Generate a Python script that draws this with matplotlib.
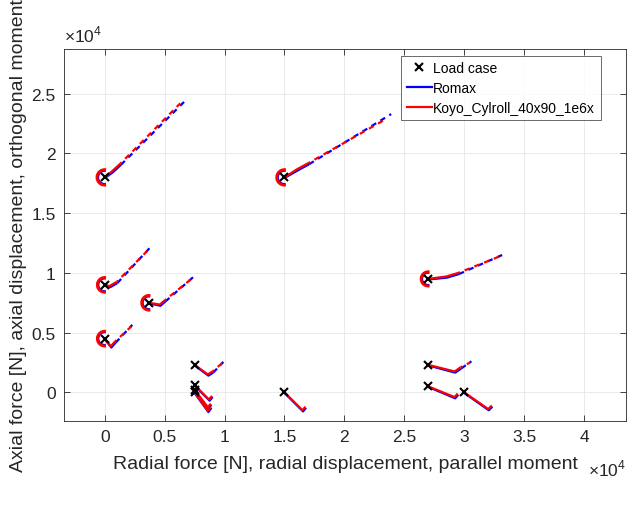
import numpy as np
import matplotlib
matplotlib.use("Agg")
import matplotlib.pyplot as plt
from matplotlib.patches import Arc
from matplotlib.lines import Line2D

plt.rcParams["font.family"] = ["Liberation Sans", "DejaVu Sans"]
plt.rcParams["mathtext.fontset"] = "custom"
plt.rcParams["mathtext.rm"] = "Liberation Sans"

# ---- load cases (radial, axial) ----
load_x = [0, 15000, 0, 3700, 0, 7500, 7500, 7500, 7500, 15000, 27000, 27000, 27000, 30000]
load_y = [18000, 18000, 9000, 7500, 4500, 2300, 600, 200, 0, 0, 9500, 2300, 500, 0]

# ---- moment sweeps (arcs around selected load cases) ----
arc_x = [0, 15000, 0, 3700, 0, 27000]
arc_y = [18000, 18000, 9000, 7500, 4500, 9500]
arc_r_koyo = [650, 650, 620, 620, 620, 600]
arc_r_romax = [560, 560, 540, 540, 540, 520]

# ---- solid part of each response curve (force branch) ----
koyo_solid = [
    [(0, 18000), (600, 18500), (1300, 19150)],
    [(15000, 18000), (16000, 18650), (17000, 19200)],
    [(0, 9000), (400, 8900), (1000, 9250)],
    [(3700, 7500), (4600, 7350), (5000, 7700)],
    [(0, 4500), (500, 3850), (850, 4250)],
    [(7500, 2300), (8600, 1500), (9000, 1750)],
    [(7500, 600), (8700, -600), (8950, -300)],
    [(7500, 200), (8600, -1250), (8850, -950)],
    [(7500, 0), (8600, -1550), (8850, -1200)],
    [(15000, 0), (16500, -1500), (16750, -1200)],
    [(27000, 9500), (28500, 9700), (29500, 10000)],
    [(27000, 2300), (29200, 1750), (29700, 2100)],
    [(27000, 500), (29200, -400), (29450, -100)],
    [(30000, 0), (32000, -1400), (32300, -1100)],
]
romax_solid = [
    [(0, 17950), (650, 18400), (1350, 19050)],
    [(15000, 17950), (16050, 18550), (17050, 19100)],
    [(0, 8950), (450, 8800), (1050, 9150)],
    [(3700, 7450), (4650, 7250), (5050, 7600)],
    [(0, 4450), (550, 3750), (900, 4150)],
    [(7500, 2250), (8650, 1400), (9050, 1650)],
    [(7500, 550), (8750, -700), (9000, -400)],
    [(7500, 150), (8650, -1350), (8900, -1050)],
    [(7500, -50), (8650, -1650), (8900, -1300)],
    [(15000, -50), (16550, -1600), (16800, -1300)],
    [(27000, 9450), (28550, 9600), (29550, 9900)],
    [(27000, 2250), (29250, 1650), (29750, 2000)],
    [(27000, 450), (29250, -500), (29500, -200)],
    [(30000, -50), (32050, -1500), (32350, -1200)],
]

# ---- dashed part of each response curve (displacement branch) ----
koyo_dash = [
    [(1300, 19150), (6300, 24200)],
    [(17000, 19200), (23500, 22900)],
    [(1000, 9250), (3800, 12100)],
    [(5000, 7700), (7300, 9550)],
    [(850, 4250), (2200, 5500)],
    [(9000, 1750), (9800, 2450)],
    [(29700, 2100), (30500, 2500)],
    [(29500, 10000), (33000, 11400)],
]
romax_dash = [
    [(1350, 19050), (6900, 24600)],
    [(17050, 19100), (23900, 23300)],
    [(1050, 9150), (3900, 12250)],
    [(5050, 7600), (7500, 9750)],
    [(900, 4150), (2300, 5650)],
    [(9050, 1650), (9900, 2550)],
    [(29750, 2000), (30600, 2600)],
    [(29550, 9900), (33500, 11650)],
]

x_ticks = [0, 5000, 10000, 15000, 20000, 25000, 30000, 35000, 40000]
x_tick_labels = ["0", "0.5", "1", "1.5", "2", "2.5", "3", "3.5", "4"]
y_ticks = [0, 5000, 10000, 15000, 20000, 25000]
y_tick_labels = ["0", "0.5", "1", "1.5", "2", "2.5"]

BLUE = "#0000ff"
RED = "#ff0000"
AX_COLOR = "#262626"

fig = plt.figure(figsize=(6.36, 5.06), dpi=100)
ax = fig.add_axes([64 / 636, 84 / 506, 562 / 636, 372 / 506])
ax.set_xlim(-3400, 43500)
ax.set_ylim(-2400, 28750)


def draw_paths(paths, color, **kw):
    for p in paths:
        xs, ys = zip(*p)
        ax.plot(xs, ys, color=color, solid_capstyle="butt", **kw)


# Romax (blue) underneath, Koyo (red) on top
draw_paths(romax_solid, BLUE, lw=1.6, zorder=3)
draw_paths(romax_dash, BLUE, lw=1.6, linestyle=(0, (2.5, 2.2)), zorder=3)
for cx, cy, r in zip(arc_x, arc_y, arc_r_romax):
    ax.add_patch(Arc((cx, cy), 2 * r, 2 * r, theta1=80, theta2=280,
                     color=BLUE, lw=1.6, zorder=3))

draw_paths(koyo_solid, RED, lw=1.6, zorder=4)
draw_paths(koyo_dash, RED, lw=1.6, linestyle=(1.6, (2.5, 2.2)), zorder=4)
for cx, cy, r in zip(arc_x, arc_y, arc_r_koyo):
    ax.add_patch(Arc((cx, cy), 2 * r, 2 * r, theta1=80, theta2=280,
                     color=RED, lw=2.0, zorder=4))

ax.plot(load_x, load_y, linestyle="none", marker="x", color="black",
        ms=6, mew=1.5, zorder=5)

# axes styling
ax.set_xticks(x_ticks)
ax.set_xticklabels(x_tick_labels)
ax.set_yticks(y_ticks)
ax.set_yticklabels(y_tick_labels)
ax.tick_params(direction="in", length=4, width=0.6, colors=AX_COLOR,
               labelsize=12.5, top=True, right=True, pad=6)
for s in ax.spines.values():
    s.set_color(AX_COLOR)
    s.set_linewidth(0.6)
ax.grid(True, color="#e6e6e6", lw=0.6)
ax.set_axisbelow(True)

ax.set_xlabel("Radial force [N], radial displacement, parallel moment",
              fontsize=14, color=AX_COLOR, labelpad=8)
ax.set_ylabel("Axial force [N], axial displacement, orthogonal moment",
              fontsize=14, color=AX_COLOR, labelpad=3)

ax.text(0.0, 1.012, r"$\times10^{4}$", transform=ax.transAxes,
        ha="left", va="bottom", fontsize=12.5, color=AX_COLOR)
ax.text(1.0, -0.1, r"$\times10^{4}$", transform=ax.transAxes,
        ha="right", va="top", fontsize=12.5, color=AX_COLOR)

handles = [
    Line2D([], [], linestyle="none", marker="x", color="black", ms=6, mew=1.5),
    Line2D([], [], color=BLUE, lw=1.6),
    Line2D([], [], color=RED, lw=1.6),
]
leg = ax.legend(handles, ["Load case", "Romax", "Koyo_Cylroll_40x90_1e6x"],
                loc="upper right", bbox_to_anchor=(0.955, 0.982),
                fontsize=10, frameon=True, fancybox=False,
                handlelength=1.8, handletextpad=0.1, borderpad=0.4,
                labelspacing=0.42, borderaxespad=0)
leg.get_frame().set_edgecolor(AX_COLOR)
leg.get_frame().set_linewidth(0.6)

fig.savefig("out.png", dpi=100)
